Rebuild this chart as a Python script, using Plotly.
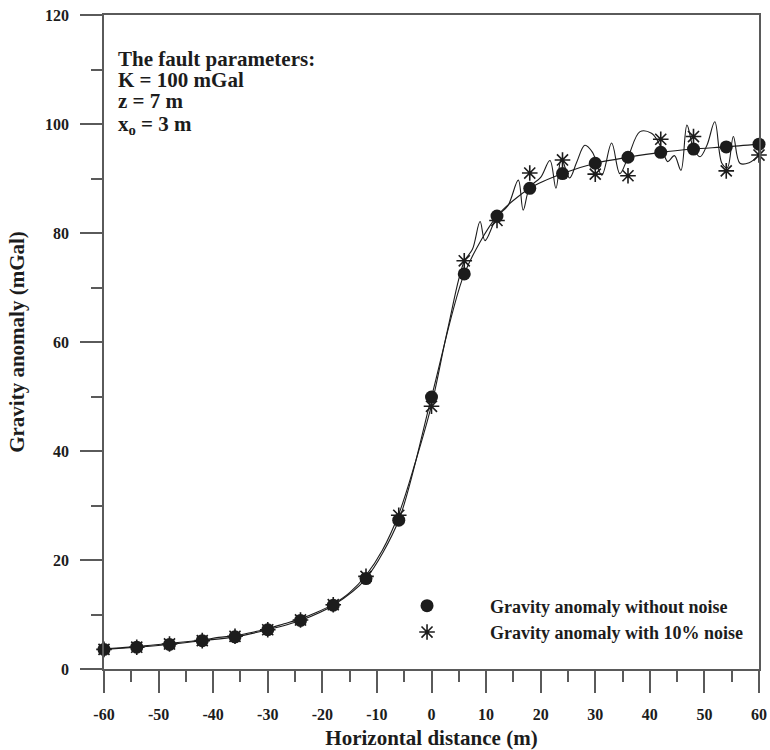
import plotly.graph_objects as go

# ---- data ----
x_pts = [-60, -54, -48, -42, -36, -30, -24, -18, -12, -6, 0, 6, 12, 18, 24, 30, 36, 42, 48, 54, 60]
g_clean = [3.6, 4.0, 4.5, 5.2, 5.9, 7.2, 8.9, 11.7, 16.6, 27.3, 49.9, 72.5, 83.1, 88.2, 90.9, 92.8, 93.9, 94.8, 95.4, 95.8, 96.3]
g_noise = [3.6, 4.0, 4.6, 5.2, 6.0, 7.2, 9.0, 11.8, 17.0, 28.2, 48.2, 74.9, 82.3, 91.0, 93.4, 90.8, 90.5, 97.2, 97.7, 91.4, 94.3]

# noisy curve
x_noise_line = [-60, -57, -54, -51, -48, -45, -42, -39, -36, -33, -30, -27, -24, -21, -18, -15, -12, -9, -6, -3,
                0, 3, 6, 7.5, 8.9, 9.8, 12, 14, 15.9, 16.8, 18, 20, 21.7, 22.8, 23.8, 25.3, 26.6, 28.1, 29.5,
                31.2, 33.0, 34.5, 36, 38.2, 40.3, 41.6, 42.5, 43.3, 44.5, 45.7, 46.8, 48, 49.2, 50.5, 51.9,
                53.2, 54.2, 55.3, 56.5, 58.2, 60]
y_noise_line = [3.7, 3.9, 4.1, 4.4, 4.7, 5.0, 5.3, 5.8, 6.1, 6.7, 7.4, 8.3, 9.2, 10.4, 11.9, 14.0, 17.2, 21.8, 28.4, 37.8,
                48.4, 62.5, 74.8, 77.0, 82.1, 78.6, 83.0, 85.0, 89.7, 84.2, 88.4, 90.2, 93.3, 88.2, 93.6, 90.1, 93.0, 96.1, 94.8,
                90.6, 96.5, 90.9, 93.9, 98.6, 98.3, 96.6, 94.6, 93.1, 94.2, 91.5, 99.8, 95.5, 94.0, 96.2, 100.4,
                92.8, 92.0, 97.7, 92.8, 92.9, 94.3]

x_tick_vals = [-60, -50, -40, -30, -20, -10, 0, 10, 20, 30, 40, 50, 60]
x_tick_text = ["-60", "-50", "-40", "-30", "-20", "-10", "0", "10", "20", "30", "40", "50", "60"]
y_tick_vals = [0, 20, 40, 60, 80, 100, 120]
y_tick_text = ["0", "20", "40", "60", "80", "100", "120"]

param_lines = ["The fault parameters:", "K = 100 mGal", "z = 7 m", "x<sub>o</sub> = 3 m"]
param_y = [0.932, 0.901, 0.869, 0.832]

FONT = "Liberation Serif"
INK = "#1c1c1c"
AXIS = "#5a5a5a"

fig = go.Figure()

fig.add_trace(go.Scatter(x=x_pts, y=g_clean, mode="lines", line=dict(color=INK, width=1.1, shape="spline", smoothing=0.8),
                         showlegend=False, hoverinfo="skip", cliponaxis=False))
fig.add_trace(go.Scatter(x=x_noise_line, y=y_noise_line, mode="lines",
                         line=dict(color=INK, width=1.1, shape="spline", smoothing=1.0),
                         showlegend=False, hoverinfo="skip", cliponaxis=False))
fig.add_trace(go.Scatter(x=x_pts, y=g_noise, mode="markers", name="Gravity anomaly with 10% noise",
                         marker=dict(symbol="asterisk-open", size=13, color=INK, line=dict(color=INK, width=1.6)),
                         cliponaxis=False, legendrank=2))
fig.add_trace(go.Scatter(x=x_pts, y=g_clean, mode="markers", name="Gravity anomaly without noise",
                         marker=dict(symbol="circle", size=13, color=INK, line=dict(width=0)),
                         cliponaxis=False, legendrank=1))

axis_common = dict(
    showgrid=False, zeroline=False, showline=True, linecolor=AXIS, linewidth=1.5, mirror=True,
    ticks="outside", ticklen=22, tickwidth=1.5, tickcolor=AXIS, automargin=False,
    tickfont=dict(family=FONT, size=16, color=INK, weight="bold"),
)

fig.update_xaxes(
    **axis_common, range=[-60, 60], tickvals=x_tick_vals, ticktext=x_tick_text,
    minor=dict(dtick=5, tick0=-60, ticks="outside", ticklen=11, tickwidth=1.5, tickcolor=AXIS),
    title=dict(text="<b>Horizontal distance (m)</b>", font=dict(family=FONT, size=21, color=INK)),
    ticklabelstandoff=8,
)
fig.update_yaxes(
    **axis_common, range=[0, 120], tickvals=y_tick_vals, ticktext=y_tick_text,
    minor=dict(dtick=10, tick0=0, ticks="outside", ticklen=11, tickwidth=1.5, tickcolor=AXIS),
    title=dict(text="<b>Gravity anomaly (mGal)</b>", font=dict(family=FONT, size=21, color=INK)),
    ticklabelstandoff=8,
)

for txt, yy in zip(param_lines, param_y):
    fig.add_annotation(
        xref="paper", yref="paper", x=0.018, y=yy, xanchor="left", yanchor="middle", showarrow=False,
        text="<b>" + txt + "</b>", font=dict(family=FONT, size=21, color=INK),
    )

fig.update_layout(
    width=770, height=750, plot_bgcolor="white", paper_bgcolor="white",
    margin=dict(l=104, r=11, t=15, b=81, autoexpand=False),
    font=dict(family=FONT, color=INK),
    legend=dict(x=0.397, y=0.0765, xanchor="left", yanchor="middle", bgcolor="rgba(0,0,0,0)",
                font=dict(family=FONT, size=18, color=INK, weight="bold"), itemwidth=116,
                traceorder="normal", tracegroupgap=0),
)

fig.write_html("out.html", config={"displayModeBar": False},
               post_script="document.body.style.margin='0';document.body.style.padding='0';")
